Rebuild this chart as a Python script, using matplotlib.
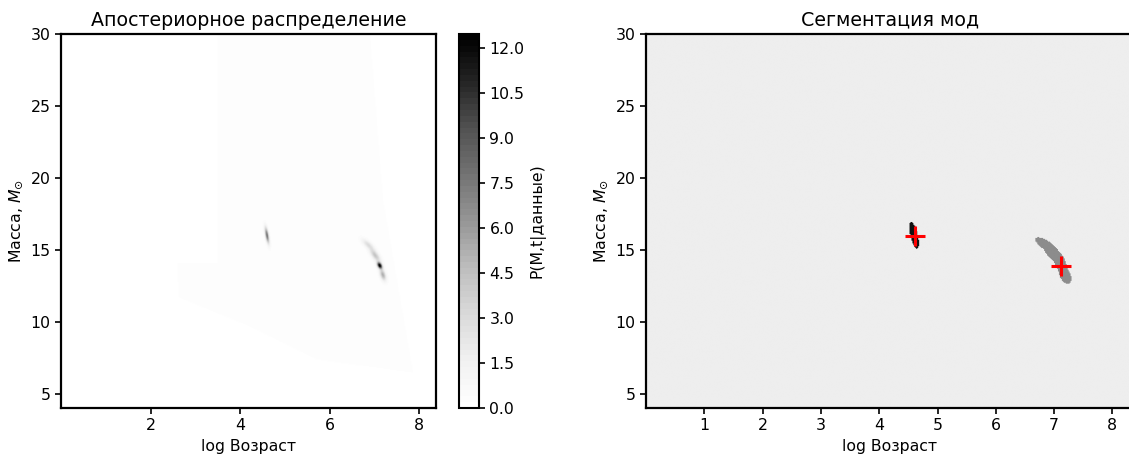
import numpy as np
import matplotlib
matplotlib.use('Agg')
import matplotlib.pyplot as plt
from matplotlib.path import Path
from matplotlib.colors import ListedColormap, Normalize

# ---- data -------------------------------------------------------------
x_range = [0.0, 8.37]          # log age
y_range = [4.0, 30.0]          # mass

# posterior modes as sheared gaussian components
comp_mode = [1, 2, 2, 2, 2]
comp_x = [4.60, 6.86, 7.02, 7.12, 7.19]
comp_y = [16.0, 15.35, 14.6, 13.9, 13.25]
comp_amp = [7.5, 2.5, 4.0, 12.47, 5.0]
comp_sy = [0.37, 0.25, 0.30, 0.15, 0.26]
comp_sw = [0.026, 0.06, 0.055, 0.035, 0.042]
comp_slope = [-0.055, -0.25, -0.18, -0.10, -0.08]

# faint support region of the posterior
support_x = [2.60, 3.49, 3.49, 6.90, 7.19, 7.86, 5.72, 4.23, 2.63]
support_y = [14.1, 14.1, 30.0, 30.0, 18.5, 6.46, 7.36, 9.65, 11.7]
support_level = 0.3

# segmentation
seg_threshold = 0.3
seg_colors = ['#eeeeee', '#111111', '#8c8c8c']   # background, mode 1, mode 2

# mode peaks
peak_x = [4.61, 7.12]
peak_y = [15.97, 13.89]

cbar_ticks = [0.0, 1.5, 3.0, 4.5, 6.0, 7.5, 9.0, 10.5, 12.0]
vmax = 12.47

# ---- grid -------------------------------------------------------------
nx, ny = 500, 400
xs = np.linspace(x_range[0], x_range[1], nx)
ys = np.linspace(y_range[0], y_range[1], ny)
X, Y = np.meshgrid(xs, ys)

pts = np.column_stack([X.ravel(), Y.ravel()])
support = Path(np.column_stack([support_x, support_y])).contains_points(pts).reshape(X.shape)
post = np.where(support, support_level, 0.0)

mode_dens = {1: np.zeros_like(X), 2: np.zeros_like(X)}
for m, cx, cy, a, sy, sw, sl in zip(comp_mode, comp_x, comp_y, comp_amp, comp_sy, comp_sw, comp_slope):
    dy = Y - cy
    dx = X - cx - sl * dy
    mode_dens[m] += a * np.exp(-0.5 * (dy / sy) ** 2 - 0.5 * (dx / sw) ** 2)

post = post + mode_dens[1] + mode_dens[2]
post = np.clip(post, 0, vmax)

seg = np.zeros_like(X, dtype=int)
seg[mode_dens[2] > seg_threshold] = 2
seg[mode_dens[1] > seg_threshold] = 1

# ---- figure -----------------------------------------------------------
W, H = 1129, 455
fig = plt.figure(figsize=(W / 100, H / 100), dpi=100)
plt.rcParams['font.family'] = ['DejaVu Sans']

tick_fs = 11.3
lab_fs = 11.3
title_fs = 13.7

def px_axes(l, t, r, b):
    return fig.add_axes([l / W, 1 - b / H, (r - l) / W, (b - t) / H])

ax1 = px_axes(61, 34, 436, 408)
cax = px_axes(459, 34, 479, 408)
ax2 = px_axes(646, 34, 1134, 408)

extent = [x_range[0], x_range[1], y_range[0], y_range[1]]
cmap1 = plt.get_cmap('Greys', 64)
im = ax1.imshow(post, origin='lower', extent=extent, aspect='auto',
                cmap=cmap1, norm=Normalize(0, vmax), interpolation='antialiased')
cb = fig.colorbar(im, cax=cax)
cb.set_ticks(cbar_ticks)
cb.set_ticklabels([f'{t:.1f}' for t in cbar_ticks])
cb.set_label('P(M,t|данные)', fontsize=lab_fs)
cb.ax.tick_params(labelsize=tick_fs, width=1.2, length=4)
cb.outline.set_linewidth(1.5)

ax1.set_xlim(x_range)
ax1.set_ylim(y_range)
ax1.set_xticks([2, 4, 6, 8])
ax1.set_yticks([5, 10, 15, 20, 25, 30])
ax1.set_title('Апостериорное распределение', fontsize=title_fs)
ax1.set_xlabel('log Возраст', fontsize=lab_fs)
ax1.set_ylabel(r'Масса, $M_{\odot}$', fontsize=lab_fs)

ax2.imshow(seg, origin='lower', extent=extent, aspect='auto',
           cmap=ListedColormap(seg_colors), vmin=-0.5, vmax=2.5, interpolation='antialiased')
ax2.plot(peak_x, peak_y, linestyle='none', marker='+', color='red',
         markersize=15, markeredgewidth=2.2)
ax2.set_xlim(x_range)
ax2.set_ylim(y_range)
ax2.set_xticks([1, 2, 3, 4, 5, 6, 7, 8])
ax2.set_yticks([5, 10, 15, 20, 25, 30])
ax2.set_title('Сегментация мод', fontsize=title_fs)
ax2.set_xlabel('log Возраст', fontsize=lab_fs)
ax2.set_ylabel(r'Масса, $M_{\odot}$', fontsize=lab_fs)

for ax in (ax1, ax2):
    ax.tick_params(labelsize=tick_fs, width=1.2, length=4)
    for s in ax.spines.values():
        s.set_linewidth(1.6)

fig.savefig('out.png', dpi=100)
